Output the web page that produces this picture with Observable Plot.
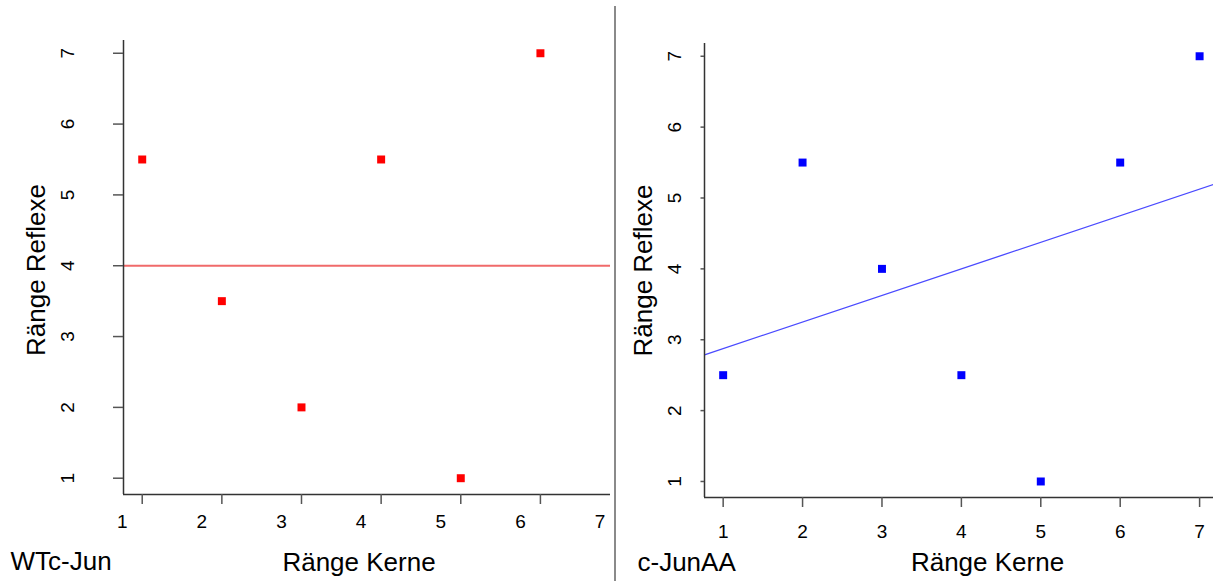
<!DOCTYPE html>
<html><head><meta charset="utf-8">
<script src="https://cdn.jsdelivr.net/npm/d3@7"></script>
<script src="https://cdn.jsdelivr.net/npm/@observablehq/plot@0.6"></script>
<style>
html,body{margin:0;padding:0;background:#fff;}
#wrap{position:relative;width:1213px;height:581px;overflow:hidden;font-family:"Liberation Sans",Arial,sans-serif;}
#left,#right{position:absolute;top:0;}
#left{left:0;width:615px;}
#right{left:615px;width:598px;}
#sep{position:absolute;left:614px;top:6px;width:2px;height:575px;background:#8a8a8a;}
#wrap svg{max-width:none !important;}
</style></head><body>
<div id="wrap"><div id="left"></div><div id="sep"></div><div id="right"></div></div>
<script>
// ---- data ----
const wtKerne = [1, 2, 3, 4, 5, 6];
const wtReflexe = [5.5, 3.5, 2, 5.5, 1, 7];
const wtRefLine = 4;
const aaKerne = [1, 2, 3, 4, 5, 6, 7];
const aaReflexe = [2.5, 5.5, 4, 2.5, 1, 5.5, 7];
const wtXTicks = [1, 2, 3, 4, 5, 6];
const xTickLabels = [1, 2, 3, 4, 5, 6, 7];
const yTicks = [1, 2, 3, 4, 5, 6, 7];
const panelLabels = ["WTc-Jun", "c-JunAA"];
const xTitle = "Ränge Kerne";
const yTitle = "Ränge Reflexe";

// ---- derived ----
const wt = wtKerne.map((k, i) => ({k, r: wtReflexe[i]}));
const aa = aaKerne.map((k, i) => ({k, r: aaReflexe[i]}));
const mx = d3.mean(aaKerne), my = d3.mean(aaReflexe);
const slope = d3.sum(aa, d => (d.k - mx) * (d.r - my)) / d3.sum(aa, d => (d.k - mx) ** 2);
const intercept = my - slope * mx;

const leftX = [0.765, 6.88], leftY = [0.77, 7.18];
const rightX = [0.765, 7.175], rightY = [0.774, 7.18];
const fitLine = rightX.map(k => ({k, r: intercept + slope * k}));

const TICK_FS = 19;
const baseStyle = {fontFamily: '"Liberation Sans", Arial, sans-serif', fontSize: TICK_FS + "px", background: "transparent", color: "black", overflow: "visible"};
const axisStroke = "#333";
const fmt = d => String(d);

function enlargeTicks(svg) {
  svg.querySelectorAll("text").forEach(t => {
    if (/^\s*\d\s*$/.test(t.textContent)) {
      t.setAttribute("font-size", TICK_FS);
      t.style.setProperty("font-size", TICK_FS + "px", "important");
    }
  });
  return svg;
}

const left = Plot.plot({
  width: 615, height: 581,
  marginLeft: 123, marginRight: 5, marginTop: 40, marginBottom: 87,
  x: {domain: leftX, label: null}, y: {domain: leftY, label: null},
  style: baseStyle,
  marks: [
    Plot.ruleY([wtRefLine], {stroke: "#f06a6a", strokeWidth: 2}),
    Plot.dot(wt, {x: "k", y: "r", symbol: "square", r: 4.5, fill: "#ff0000", stroke: "none"}),
    Plot.ruleX([leftX[0]], {stroke: axisStroke, strokeWidth: 1.5}),
    Plot.ruleY([leftY[0]], {stroke: axisStroke, strokeWidth: 1.5}),
    Plot.axisY({ticks: yTicks, tickFormat: fmt, label: null, tickSize: 10, tickPadding: 40, tickRotate: -90, stroke: "#555", strokeWidth: 1.5, fontSize: TICK_FS}),
    Plot.axisX({ticks: wtXTicks, tickFormat: () => "", label: null, tickSize: 10, stroke: "#555", strokeWidth: 1.5}),
    Plot.axisX({ticks: xTickLabels, tickFormat: fmt, label: null, tickSize: 0, tickPadding: 20, dx: -20, fontSize: TICK_FS}),
    Plot.text([panelLabels[0]], {text: d => d, frameAnchor: "bottom-left", textAnchor: "start", lineAnchor: "bottom", dx: -113, dy: 75, fontSize: 26}),
    Plot.text([xTitle], {text: d => d, frameAnchor: "bottom", textAnchor: "middle", lineAnchor: "bottom", dx: -8, dy: 76, fontSize: 26}),
    Plot.text([yTitle], {text: d => d, frameAnchor: "left", textAnchor: "middle", rotate: -90, lineAnchor: "bottom", dx: -78.5, dy: 2.5, fontSize: 26})
  ]
});
document.getElementById("left").append(enlargeTicks(left));

const right = Plot.plot({
  width: 598, height: 581,
  marginLeft: 89, marginRight: 0, marginTop: 43, marginBottom: 84,
  x: {domain: rightX, label: null}, y: {domain: rightY, label: null},
  style: baseStyle,
  marks: [
    Plot.line(fitLine, {x: "k", y: "r", stroke: "#4a4aff", strokeWidth: 1.3, clip: true}),
    Plot.dot(aa, {x: "k", y: "r", symbol: "square", r: 4.5, fill: "#0000ff", stroke: "none"}),
    Plot.ruleX([rightX[0]], {stroke: axisStroke, strokeWidth: 1.5}),
    Plot.ruleY([rightY[0]], {stroke: axisStroke, strokeWidth: 1.5}),
    Plot.axisY({ticks: yTicks, tickFormat: fmt, label: null, tickSize: 3.5, tickPadding: 20.5, tickRotate: -90, stroke: "#555", strokeWidth: 1.5, fontSize: TICK_FS}),
    Plot.axisX({ticks: xTickLabels, tickFormat: fmt, label: null, tickSize: 10, tickPadding: 17, stroke: "#555", strokeWidth: 1.5, fontSize: TICK_FS}),
    Plot.text([panelLabels[1]], {text: d => d, frameAnchor: "bottom-left", textAnchor: "start", lineAnchor: "bottom", dx: -67, dy: 73, fontSize: 26}),
    Plot.text([xTitle], {text: d => d, frameAnchor: "bottom", textAnchor: "middle", lineAnchor: "bottom", dx: 28.5, dy: 73, fontSize: 26}),
    Plot.text([yTitle], {text: d => d, frameAnchor: "left", textAnchor: "middle", rotate: -90, lineAnchor: "bottom", dx: -52.5, dy: 0, fontSize: 26})
  ]
});
document.getElementById("right").append(enlargeTicks(right));
</script>
</body></html>
